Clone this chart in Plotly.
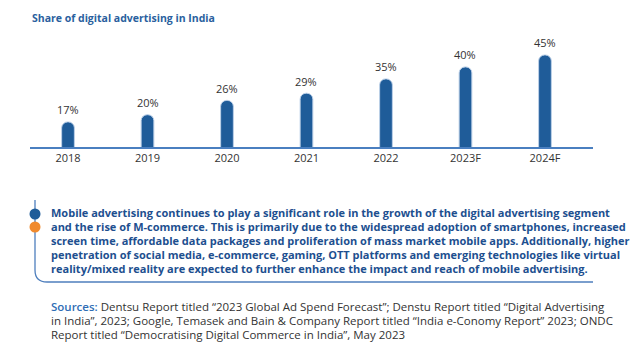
import plotly.graph_objects as go

W, H = 638, 354

years = ["2018", "2019", "2020", "2021", "2022", "2023F", "2024F"]
share = [17, 20, 26, 29, 35, 40, 45]

title = "Share of digital advertising in India"
para_lines = [
    "Mobile advertising continues to play a significant role in the growth of the digital advertising segment",
    "and the rise of M-commerce. This is primarily due to the widespread adoption of smartphones, increased",
    "screen time, affordable data packages and proliferation of mass market mobile apps. Additionally, higher",
    "penetration of social media, e-commerce, gaming, OTT platforms and emerging technologies like virtual",
    "reality/mixed reality are expected to further enhance the impact and reach of mobile advertising.",
]
source_lines = [
    "<span style='color:#2f6db5;font-weight:600'>Sources:</span> Dentsu Report titled “2023 Global Ad Spend Forecast”; Denstu Report titled “Digital Advertising",
    "in India”, 2023; Google, Temasek and Bain & Company Report titled “India e-Conomy Report” 2023; ONDC",
    "Report titled “Democratising Digital Commerce in India”, May 2023",
]

FONT = "Open Sans"
BLUE = "#1f5c99"


def px(x):
    return x / W


def py(y):
    return 1 - y / H


fig = go.Figure()
fig.add_trace(go.Bar(
    x=years, y=share,
    marker=dict(color=BLUE, line=dict(color="#bcd0e8", width=1)),
    width=0.16,
    hoverinfo="x+y",
))

annotations = []
for i, v in enumerate(share):
    annotations.append(dict(
        x=i, y=v, xref="x", yref="y", xanchor="center", yanchor="middle",
        yshift=12, text=f"{v}%", showarrow=False,
        font=dict(family=FONT, size=11, color="#333333"),
    ))
annotations.append(dict(
    x=px(30), y=py(18), xref="paper", yref="paper", xanchor="left", yanchor="middle",
    text="<b>" + title + "</b>", showarrow=False,
    font=dict(family=FONT, size=10.5, color="#2a5f9e"),
))
for i, line in enumerate(para_lines):
    annotations.append(dict(
        x=px(49), y=py(212 + 14 * i), xref="paper", yref="paper", xanchor="left", yanchor="middle",
        text="<b>" + line + "</b>", showarrow=False,
        font=dict(family=FONT, size=11, color="#1d4f8f"),
    ))
for i, line in enumerate(source_lines):
    annotations.append(dict(
        x=px(49), y=py(306 + 14 * i), xref="paper", yref="paper", xanchor="left", yanchor="middle",
        text=line, showarrow=False,
        font=dict(family=FONT, size=11.5, color="#333333"),
    ))

path = (f"M {px(35)},{py(200)} L {px(35)},{py(270)} "
        f"Q {px(35)},{py(282)} {px(47)},{py(282)} L {px(593)},{py(282)}")
shapes = [
    dict(type="path", xref="paper", yref="paper", path=path,
         line=dict(color="#4f7fbd", width=1.3)),
    dict(type="circle", xref="paper", yref="paper",
         x0=px(29.5), x1=px(40.5), y0=py(208.5), y1=py(219.5),
         fillcolor=BLUE, line=dict(width=0)),
    dict(type="circle", xref="paper", yref="paper",
         x0=px(29.5), x1=px(40.5), y0=py(221.5), y1=py(232.5),
         fillcolor="#f08a2e", line=dict(width=0)),
]

fig.update_layout(
    width=W, height=H,
    margin=dict(l=0, r=0, t=0, b=0),
    paper_bgcolor="white", plot_bgcolor="white",
    barcornerradius=6,
    showlegend=False,
    xaxis=dict(
        type="category",
        domain=[px(30), px(593)], range=[-0.478, 6.604],
        showline=True, linecolor="#4a7fc0", linewidth=1.5,
        showgrid=False, zeroline=False, ticks="",
        tickfont=dict(family=FONT, size=11, color="#333333"),
        anchor="y",
    ),
    yaxis=dict(
        domain=[py(147), py(30)], range=[6.5, 55.45],
        visible=False, showgrid=False, zeroline=False,
    ),
    annotations=annotations,
    shapes=shapes,
)

fig.write_html("out.html")
